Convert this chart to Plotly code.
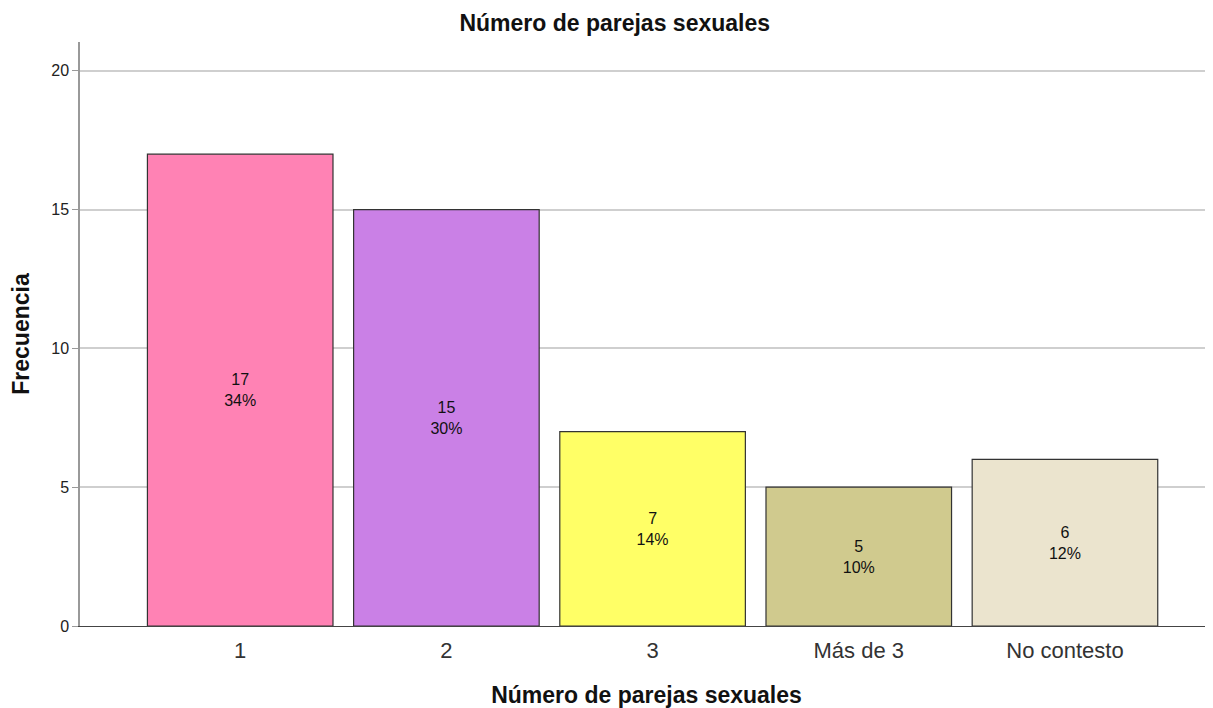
import plotly.graph_objects as go

categories = ["1", "2", "3", "Más de 3", "No contesto"]
values = [17, 15, 7, 5, 6]
percents = ["34%", "30%", "14%", "10%", "12%"]
colors = ["#FF82B4", "#CA80E6", "#FFFF66", "#D0CA8E", "#EBE4CE"]
y_ticks = [0, 5, 10, 15, 20]

labels = [f"{v}<br>{p}" for v, p in zip(values, percents)]

fig = go.Figure(go.Bar(
    x=categories, y=values,
    marker=dict(color=colors, line=dict(color="#333333", width=1.2)),
    text=labels, textposition="inside", insidetextanchor="middle",
    textfont=dict(family="Liberation Sans, Arial", size=16, color="#111111"),
    textangle=0, cliponaxis=False,
))

fig.update_layout(
    width=1205, height=700,
    margin=dict(l=72, r=0, t=34, b=82),
    paper_bgcolor="white", plot_bgcolor="white",
    bargap=0.1,
    showlegend=False,
    title=dict(text="<b>Número de parejas sexuales</b>", x=0.5035, xanchor="center",
               y=0.979, yanchor="middle",
               font=dict(family="Liberation Sans, Arial", size=23, color="#111111")),
    font=dict(family="Liberation Sans, Arial", color="#222222"),
)
fig.update_xaxes(
    range=[-0.777, 4.718],
    showline=True, linecolor="#444444", linewidth=1.2,
    ticks="outside", ticklen=4, tickcolor="rgba(0,0,0,0)",
    tickfont=dict(size=22, color="#333333"),
    title=dict(text="<b>Número de parejas sexuales</b>", standoff=26,
               font=dict(size=23, color="#111111")),
    showgrid=False,
)
fig.update_yaxes(
    range=[0, 21.04], tickvals=y_ticks,
    showline=True, linecolor="#999999", linewidth=1.5,
    ticks="outside", ticklen=6, tickcolor="#999999", tickwidth=1.2,
    tickfont=dict(size=16, color="#222222"),
    gridcolor="#CFCFCF", gridwidth=1.5,
    zeroline=False,
    title=dict(text="<b>Frecuencia</b>", standoff=22,
               font=dict(size=23, color="#111111")),
)

fig.write_html("out.html")
